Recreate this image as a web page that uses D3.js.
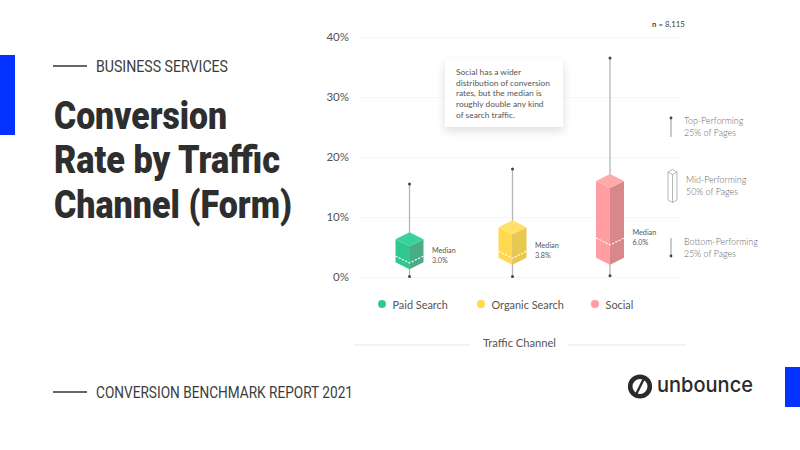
<!DOCTYPE html>
<html lang="en">
<head>
<meta charset="UTF-8">
<title>Conversion Rate by Traffic Channel (Form)</title>
<script src="https://d3js.org/d3.v7.min.js"></script>
<style>
  html, body { margin: 0; padding: 0; background: #fff; }
  svg { display: block; }
  text { font-family: Lato, "Noto Sans", sans-serif; }
</style>
</head>
<body>
<svg id="chart" width="800" height="450"></svg>
<script>
// values, all in %
const channels = ["Paid Search", "Organic Search", "Social"];
const whiskerTop = [15.5, 18, 36.5];
const q3 = [5.8, 7.8, 15.5];
const medians = [3.0, 3.8, 6.0];
const q1 = [1.95, 2.7, 2.7];
const whiskerBottom = [0.1, 0.1, 0.2];
const yTicks = [0, 10, 20, 30, 40];
const titleLines = ["Conversion", "Rate by Traffic", "Channel (Form)"];
const calloutLines = [
  "Social has a wider",
  "distribution of conversion",
  "rates, but the median is",
  "roughly double any kind",
  "of search traffic."
];

const colors = {
  "Paid Search": { top: "#3ad29b", left: "#2fc78d", right: "#4aab87" },
  "Organic Search": { top: "#ffe169", left: "#ffd94e", right: "#e9c84f" },
  "Social": { top: "#ffaaaa", left: "#ff9da0", right: "#d8878b" }
};

const svg = d3.select("#chart");
const ink = "#2e2e2e";
const condensed = "Roboto, sans-serif";
const body = 'Lato, "Noto Sans", sans-serif';

const y = d3.scaleLinear().domain([0, 40]).range([277, 37]);
const x = d3.scaleOrdinal().domain(channels).range([409.5, 512.5, 610]);

const defs = svg.append("defs");
const shadow = defs.append("filter").attr("id", "shadow")
  .attr("x", "-20%").attr("y", "-20%").attr("width", "140%").attr("height", "150%");
shadow.append("feDropShadow").attr("dx", 0).attr("dy", 4).attr("stdDeviation", 5)
  .attr("flood-color", "#000").attr("flood-opacity", 0.13);

// page furniture
svg.append("rect").attr("x", 0).attr("y", 55).attr("width", 15).attr("height", 80).attr("fill", "#0433ff");
svg.append("rect").attr("x", 785).attr("y", 367).attr("width", 15).attr("height", 40).attr("fill", "#0433ff");

function ruleAndLabel(ly, label, width) {
  svg.append("line").attr("x1", 53).attr("x2", 87).attr("y1", ly).attr("y2", ly)
    .attr("stroke", "#333").attr("stroke-width", 1.3);
  svg.append("text").attr("x", 96).attr("y", ly + 6).text(label)
    .attr("font-size", 16.5).attr("fill", "#3c3c3c")
    .style("font-family", condensed)
    .attr("textLength", width).attr("lengthAdjust", "spacingAndGlyphs");
}
ruleAndLabel(66, "BUSINESS SERVICES", 132);
ruleAndLabel(392, "CONVERSION BENCHMARK REPORT 2021", 257);

const titleWidths = [173, 226, 238];
svg.append("g").selectAll("text").data(titleLines).join("text")
  .attr("x", 54).attr("y", (d, i) => 128.5 + i * 44.7)
  .attr("font-size", 38).attr("font-weight", 900).attr("fill", ink)
  .style("font-family", condensed)
  .attr("textLength", (d, i) => titleWidths[i]).attr("lengthAdjust", "spacingAndGlyphs")
  .text(d => d);

// y axis and gridlines
const axis = svg.append("g").attr("transform", "translate(357,0)")
  .call(d3.axisLeft(y).tickValues(yTicks).tickFormat(d => d + "%").tickSizeInner(-326).tickSizeOuter(0).tickPadding(8));
axis.select(".domain").remove();
axis.selectAll(".tick line").attr("stroke", "#f6f6f6");
axis.selectAll(".tick text").attr("font-size", 11.5).attr("fill", "#555")
  .style("font-family", body).attr("dy", "0.33em");

// iso boxes
const halfW = 14, rise = 7, lift = 3;
const poly = d3.line();

const boxes = svg.append("g").selectAll("g").data(channels).join("g");

boxes.append("line").attr("class", "whisker")
  .attr("x1", d => x(d)).attr("x2", d => x(d))
  .attr("y1", (d, i) => y(whiskerTop[i])).attr("y2", (d, i) => y(whiskerBottom[i]))
  .attr("stroke", "#b5b5b5").attr("stroke-width", 1.3);

boxes.selectAll(".cap").data((d, i) => [whiskerTop[i], whiskerBottom[i]].map(v => ({ ch: d, v })))
  .join("circle").attr("class", "cap")
  .attr("cx", d => x(d.ch)).attr("cy", d => y(d.v)).attr("r", 1.5).attr("fill", "#444");

// left face, right face, top face
boxes.append("path").attr("fill", d => colors[d].left).attr("d", (d, i) => {
  const cx = x(d), t = y(q3[i]) - lift, b = y(q1[i]) - lift;
  return poly([[cx - halfW, t], [cx, t + rise], [cx, b + rise], [cx - halfW, b]]) + "Z";
});
boxes.append("path").attr("fill", d => colors[d].right).attr("d", (d, i) => {
  const cx = x(d), t = y(q3[i]) - lift, b = y(q1[i]) - lift;
  return poly([[cx + halfW, t], [cx, t + rise], [cx, b + rise], [cx + halfW, b]]) + "Z";
});
boxes.append("path").attr("fill", d => colors[d].top).attr("d", (d, i) => {
  const cx = x(d), t = y(q3[i]) - lift;
  return poly([[cx - halfW, t], [cx, t - rise], [cx + halfW, t], [cx, t + rise]]) + "Z";
});

// median dashes
boxes.append("path").attr("fill", "none").attr("stroke", "#fff").attr("stroke-width", 1.1)
  .attr("stroke-dasharray", "2.2,1.4")
  .attr("d", (d, i) => {
    const cx = x(d), m = y(medians[i]) - lift;
    return poly([[cx - halfW, m], [cx, m + rise], [cx + halfW, m]]);
  });

// median labels
boxes.append("text").attr("x", d => x(d) + 22.5).attr("y", (d, i) => y(medians[i]) - 6)
  .attr("font-size", 7.2).attr("fill", "#555").text("Median");
boxes.append("text").attr("x", d => x(d) + 22.5).attr("y", (d, i) => y(medians[i]) + 3.5)
  .attr("font-size", 7.2).attr("fill", "#555").text((d, i) => medians[i].toFixed(1) + "%");

// legend
const legendX = d3.scaleOrdinal().domain(channels).range([382, 481, 595]);
const legend = svg.append("g").selectAll("g").data(channels).join("g")
  .attr("transform", d => `translate(${legendX(d)},304)`);
legend.append("circle").attr("r", 4).attr("fill", d => colors[d].left);
legend.append("text").attr("x", 10.5).attr("y", 4.5).attr("font-size", 10.9).attr("fill", "#555").text(d => d);

// x axis title
svg.append("g").selectAll("line").data([[354, 470], [568, 686]]).join("line")
  .attr("x1", d => d[0]).attr("x2", d => d[1]).attr("y1", 345).attr("y2", 345)
  .attr("stroke", "#e6e6e6");
svg.append("text").attr("x", 483).attr("y", 346.5).text("Traffic Channel")
  .attr("font-size", 12).attr("fill", "#555")
  .attr("textLength", 73).attr("lengthAdjust", "spacingAndGlyphs");

// n
const nText = svg.append("text").attr("x", 652).attr("y", 27).attr("font-size", 7.8).attr("fill", "#444");
nText.append("tspan").attr("font-weight", 700).text("n");
nText.append("tspan").text(" = 8,115");

// callout
svg.append("rect").attr("x", 445).attr("y", 59).attr("width", 118).attr("height", 68)
  .attr("fill", "#fff").attr("filter", "url(#shadow)");
svg.append("g").selectAll("text").data(calloutLines).join("text")
  .attr("x", 456).attr("y", (d, i) => 75 + i * 10.7)
  .attr("font-size", 8.4).attr("fill", "#555").text(d => d);

// key on the right
const keyText = [
  { x: 684, y: 124, lines: ["Top-Performing", "25% of Pages"] },
  { x: 686, y: 183, lines: ["Mid-Performing", "50% of Pages"] },
  { x: 684, y: 245, lines: ["Bottom-Performing", "25% of Pages"] }
];
keyText.forEach(k => {
  k.lines.forEach((l, i) => {
    svg.append("text").attr("x", k.x).attr("y", k.y + i * 11.8).text(l)
      .attr("font-size", 8.9).attr("font-weight", 300).attr("fill", "#666");
  });
});
const key = svg.append("g");
key.append("line").attr("x1", 671).attr("x2", 671).attr("y1", 118).attr("y2", 137).attr("stroke", "#aaa").attr("stroke-width", 1.2);
key.append("circle").attr("cx", 671).attr("cy", 118).attr("r", 1.4).attr("fill", "#444");
key.append("line").attr("x1", 671).attr("x2", 671).attr("y1", 238).attr("y2", 256).attr("stroke", "#aaa").attr("stroke-width", 1.2);
key.append("circle").attr("cx", 671).attr("cy", 256).attr("r", 1.4).attr("fill", "#444");
key.append("path").attr("fill", "#fff").attr("stroke", "#999").attr("stroke-width", 0.7)
  .attr("d", "M668 172L672.5 169.5L677 172V200L672.5 202.5L668 200ZM668 172L672.5 174.5L677 172M672.5 174.5V202.5");

// logo
const logo = svg.append("g").attr("transform", "translate(640,386.5)");
logo.append("circle").attr("r", 9.8).attr("fill", "none").attr("stroke", "#2b2b2b").attr("stroke-width", 4.6);
logo.append("line").attr("x1", 4.5).attr("y1", -9).attr("x2", -4.5).attr("y2", 9).attr("stroke", "#2b2b2b").attr("stroke-width", 2.4);
svg.append("text").attr("x", 657).attr("y", 392).text("unbounce")
  .attr("font-size", 20.5).attr("font-weight", 500).attr("fill", "#2b2b2b")
  .style("font-family", "Inter, sans-serif")
  .attr("textLength", 96).attr("lengthAdjust", "spacingAndGlyphs");
</script>
</body>
</html>
